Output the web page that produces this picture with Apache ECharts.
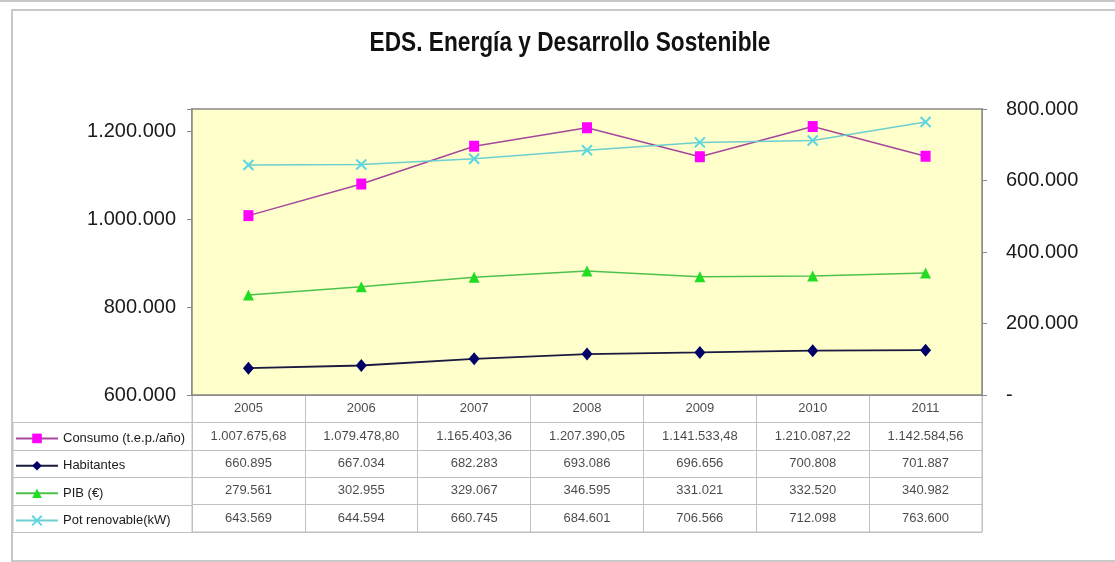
<!DOCTYPE html>
<html>
<head>
<meta charset="utf-8">
<script src="https://cdn.jsdelivr.net/npm/echarts@6/dist/echarts.min.js"></script>
<style>html,body{margin:0;padding:0;background:#fff;}#c{width:1115px;height:562px;}</style>
</head>
<body>
<div id="c"></div>
<script>
var years = ['2005', '2006', '2007', '2008', '2009', '2010', '2011'];
var seriesNames = ['Consumo (t.e.p./año)', 'Habitantes', 'PIB (€)', 'Pot renovable(kW)'];
var consumo = [1007675.68, 1079478.80, 1165403.36, 1207390.05, 1141533.48, 1210087.22, 1142584.56];
var habitantes = [660895, 667034, 682283, 693086, 696656, 700808, 701887];
var pib = [279561, 302955, 329067, 346595, 331021, 332520, 340982];
var potRenovable = [643569, 644594, 660745, 684601, 706566, 712098, 763600];
var leftTicks = [600000, 800000, 1000000, 1200000];
var rightTicks = [0, 200000, 400000, 600000, 800000];
var titleText = 'EDS. Energía y Desarrollo Sostenible';

function fmt(v, dec) {
  var s = v.toFixed(dec || 0);
  var parts = s.split('.');
  var ip = parts[0].replace(/\B(?=(\d{3})+(?!\d))/g, '.');
  return parts.length > 1 ? ip + ',' + parts[1] : ip;
}

var tableRows = [
  {vals: consumo, dec: 2},
  {vals: habitantes, dec: 0},
  {vals: pib, dec: 0},
  {vals: potRenovable, dec: 0}
];
var cellData = [];
years.forEach(function (y, i) { cellData.push([i, 0, y]); });
tableRows.forEach(function (r, ri) {
  r.vals.forEach(function (v, i) { cellData.push([i, ri + 1, fmt(v, r.dec)]); });
});

var FONT = 'Liberation Sans, Arial, sans-serif';
var gridL = 192, gridR = 982, gTop = 109, gBot = 395, tBot = 532;
var rowH = (tBot - gBot) / 5;

var graphics = [
  {type: 'rect', shape: {x: 12, y: 10, width: 1110, height: 551}, style: {fill: 'none', stroke: '#c8c8c8', lineWidth: 2}, z: -10},
  {type: 'line', shape: {x1: 0, y1: 1, x2: 1115, y2: 1}, style: {stroke: '#c8c8c8', lineWidth: 2}, z: -10},
  {type: 'line', shape: {x1: 13, y1: gBot + rowH, x2: 13, y2: tBot}, style: {stroke: '#c0c0c0', lineWidth: 1}},
  {type: 'text', x: 570, y: 44, scaleX: 0.84, scaleY: 1, originX: 0, originY: 0,
   style: {text: titleText, fill: '#111', font: 'bold 27px Liberation Sans, Arial', textAlign: 'center', textVerticalAlign: 'middle'}}
];
for (var k = 1; k <= 5; k++) {
  var yy = Math.round(gBot + rowH * k) + 0.5;
  graphics.push({type: 'line', shape: {x1: 13, y1: yy, x2: gridL, y2: yy}, style: {stroke: '#c0c0c0', lineWidth: 1}});
}

var chart = echarts.init(document.getElementById('c'));
chart.setOption({
  animation: false,
  backgroundColor: '#ffffff',
  legend: {
    data: seriesNames,
    orient: 'vertical', left: 15, top: gBot + rowH + 9, padding: 0,
    itemWidth: 42, itemHeight: 12, itemGap: rowH - 14,
    textStyle: {fontFamily: FONT, fontSize: 13, color: '#1a1a1a', lineHeight: 14},
    selectedMode: false
  },
  graphic: graphics,
  grid: [
    {left: gridL, right: 1115 - gridR, top: gTop, height: gBot - gTop, show: true, backgroundColor: '#FFFFCC', borderColor: '#888', borderWidth: 1.5, z: 3},
    {left: gridL, right: 1115 - gridR, top: gBot, height: tBot - gBot, show: true, backgroundColor: '#ffffff', borderColor: '#c0c0c0', borderWidth: 1}
  ],
  xAxis: [
    {type: 'category', gridIndex: 0, data: years, boundaryGap: true,
     axisLabel: {show: false}, axisTick: {show: false}, axisLine: {show: true, lineStyle: {color: '#888', width: 1.5}}},
    {type: 'category', gridIndex: 1, data: years, boundaryGap: true, position: 'top',
     axisLabel: {show: false}, axisTick: {show: false}, axisLine: {show: false},
     splitLine: {show: true, lineStyle: {color: '#c0c0c0', width: 1}}}
  ],
  yAxis: [
    {type: 'value', gridIndex: 0, position: 'left', min: 600000, max: 1250000, interval: 200000,
     splitLine: {show: false},
     axisLine: {show: true, lineStyle: {color: '#888', width: 1.5}},
     axisTick: {show: true, length: 5, lineStyle: {color: '#888'}},
     axisLabel: {margin: 16, fontFamily: FONT, fontSize: 20, color: '#1a1a1a',
       formatter: function (v) { return leftTicks.indexOf(v) >= 0 ? fmt(v, 0) : ''; }}},
    {type: 'value', gridIndex: 0, position: 'right', min: 0, max: 800000, interval: 200000,
     splitLine: {show: false},
     axisLine: {show: true, lineStyle: {color: '#888', width: 1.5}},
     axisTick: {show: true, length: 5, lineStyle: {color: '#888'}},
     axisLabel: {margin: 24, fontFamily: FONT, fontSize: 20, color: '#1a1a1a',
       formatter: function (v) { return rightTicks.indexOf(v) < 0 ? '' : (v === 0 ? '-' : fmt(v, 0)); }}},
    {type: 'category', gridIndex: 1, inverse: true, data: [''].concat(seriesNames),
     axisLabel: {show: false}, axisTick: {show: false}, axisLine: {show: false},
     splitLine: {show: true, lineStyle: {color: '#c0c0c0', width: 1}}}
  ],
  series: [
    {name: seriesNames[0], type: 'line', xAxisIndex: 0, yAxisIndex: 0, data: consumo, z: 5,
     symbol: 'rect', symbolSize: [10, 11], showAllSymbol: true,
     lineStyle: {color: '#A5489A', width: 1.5}, itemStyle: {color: '#FF00FF'}},
    {name: seriesNames[1], type: 'line', xAxisIndex: 0, yAxisIndex: 0, data: habitantes, z: 5,
     symbol: 'diamond', symbolSize: [11, 13],
     lineStyle: {color: '#1a1a40', width: 1.8}, itemStyle: {color: '#000066'}},
    {name: seriesNames[2], type: 'line', xAxisIndex: 0, yAxisIndex: 1, data: pib, z: 5,
     symbol: 'triangle', symbolSize: [11, 11],
     lineStyle: {color: '#4CC24C', width: 1.5}, itemStyle: {color: '#22DD22'}},
    {name: seriesNames[3], type: 'line', xAxisIndex: 0, yAxisIndex: 1, data: potRenovable, z: 5,
     symbol: 'path://M0,0L10,10M10,0L0,10', symbolSize: 10,
     lineStyle: {color: '#6CCFD0', width: 1.5}, itemStyle: {color: '#5CD6E0', borderColor: '#5CD6E0', borderWidth: 2}},
    {type: 'scatter', xAxisIndex: 1, yAxisIndex: 2, data: cellData, symbolSize: 1,
     itemStyle: {color: 'transparent'}, silent: true,
     label: {show: true, position: 'inside', fontFamily: FONT, fontSize: 13, color: '#1a1a1a',
       formatter: function (p) { return p.data[2]; }}}
  ]
});
</script>
</body>
</html>
